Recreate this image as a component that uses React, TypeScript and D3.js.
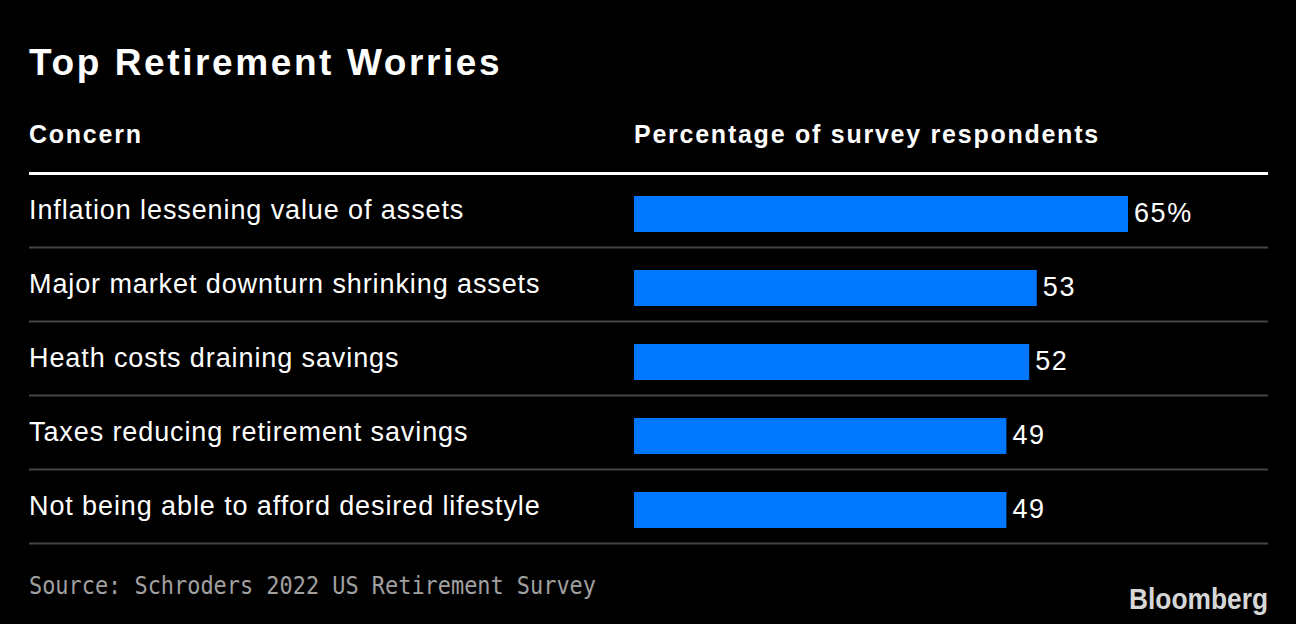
import React from "react";
import * as d3 from "d3";

const concerns = [
  "Inflation lessening value of assets",
  "Major market downturn shrinking assets",
  "Heath costs draining savings",
  "Taxes reducing retirement savings",
  "Not being able to afford desired lifestyle",
];
const percentages = [65, 53, 52, 49, 49];
const valueLabels = ["65%", "53", "52", "49", "49"];

const W = 1296;
const H = 624;
const LEFT = 29;
const RIGHT = 1268;
const BAR_X0 = 634;
const TABLE_TOP = 174;
const ROW_H = 74;
const BAR_H = 36;
const SANS = "'Liberation Sans', Arial, Helvetica, sans-serif";

export default function App() {
  const x = d3.scaleLinear().domain([0, 65]).range([BAR_X0, 1128]);
  const y = d3
    .scaleBand<string>()
    .domain(concerns)
    .range([TABLE_TOP, TABLE_TOP + ROW_H * concerns.length])
    .padding(0);

  return (
    <svg
      width={W}
      height={H}
      style={{ position: "absolute", left: 0, top: 0, background: "#000" }}
    >
      <rect x={0} y={0} width={W} height={H} fill="#000" />
      <text
        x={LEFT}
        y={75}
        fill="#fff"
        fontFamily={SANS}
        fontWeight="bold"
        fontSize={37}
        letterSpacing={2.6}
      >
        Top Retirement Worries
      </text>
      <text
        x={LEFT}
        y={143}
        fill="#fff"
        fontFamily={SANS}
        fontWeight="bold"
        fontSize={25}
        letterSpacing={1.75}
      >
        Concern
      </text>
      <text
        x={BAR_X0}
        y={143}
        fill="#fff"
        fontFamily={SANS}
        fontWeight="bold"
        fontSize={25}
        letterSpacing={1.75}
      >
        Percentage of survey respondents
      </text>
      <rect x={LEFT} y={172} width={RIGHT - LEFT} height={3} fill="#fff" />
      {concerns.map((c, i) => {
        const top = y(c)!;
        return (
          <g key={c}>
            <text
              x={LEFT}
              y={top + 45}
              fill="#fff"
              fontFamily={SANS}
              fontSize={27}
              letterSpacing={0.9}
            >
              {c}
            </text>
            <rect
              x={x(0)}
              y={top + 22}
              width={x(percentages[i]) - x(0)}
              height={BAR_H}
              fill="#0077ff"
            />
            <text
              x={x(percentages[i]) + 6}
              y={top + 48}
              fill="#fff"
              fontFamily={SANS}
              fontSize={27}
              letterSpacing={1.6}
            >
              {valueLabels[i]}
            </text>
            <rect x={LEFT} y={top + ROW_H - 1.5} width={RIGHT - LEFT} height={2} fill="#444" />
          </g>
        );
      })}
      <text
        x={LEFT}
        y={594}
        fill="#a0a0a0"
        fontFamily="'DejaVu Sans Mono', 'Liberation Mono', monospace"
        fontSize={25}
        textLength={567}
        lengthAdjust="spacingAndGlyphs"
      >
        Source: Schroders 2022 US Retirement Survey
      </text>
      <text
        x={1268}
        y={609}
        textAnchor="end"
        fill="#d6d6d6"
        fontFamily={SANS}
        fontWeight="bold"
        fontSize={30}
        textLength={139}
        lengthAdjust="spacingAndGlyphs"
      >
        Bloomberg
      </text>
    </svg>
  );
}
